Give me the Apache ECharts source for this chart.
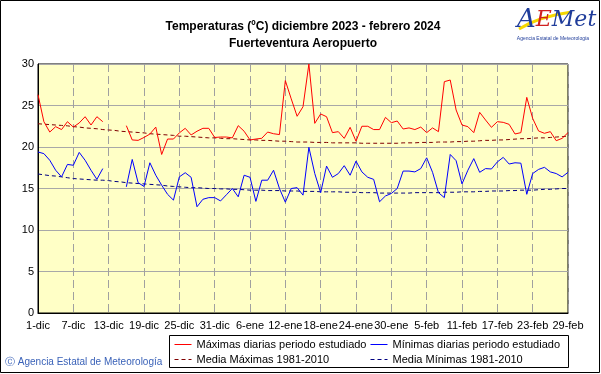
<!DOCTYPE html>
<html><head><meta charset="utf-8">
<script src="https://cdn.jsdelivr.net/npm/echarts@6/dist/echarts.min.js"></script>
<style>html,body{margin:0;padding:0;background:#fff}#c{width:601px;height:374px}</style>
</head><body><div id="c"></div>
<script>
const months = [['dic', 31], ['ene', 31], ['feb', 29]];
const days = [];
months.forEach(([m, n]) => { for (let d = 1; d <= n; d++) days.push(d + '-' + m); });
const tickLabels = ['1-dic','7-dic','13-dic','19-dic','25-dic','31-dic','6-ene','12-ene','18-ene','24-ene','30-ene','5-feb','11-feb','17-feb','23-feb','29-feb'];
const yTicks = [0, 5, 10, 15, 20, 25, 30];

const maxDaily = [26.3,23.05,21.8,22.45,22.1,23.05,22.4,22.9,23.65,22.65,23.65,23.05,null,null,null,
22.57,20.85,20.8,21.15,21.56,22.4,19.1,20.96,20.96,21.7,22.25,21.45,21.9,22.25,22.25,
21.15,21.2,21.2,21.1,22.57,21.9,20.85,20.96,21.05,21.8,21.6,21.5,28.0,25.8,23.7,
24.85,30.0,22.85,23.98,23.65,21.73,21.85,21.04,22.37,20.7,22.5,22.5,22.1,22.1,23.57,
22.93,23.13,22.17,22.3,22.1,22.4,21.73,22.3,21.85,27.87,28.07,24.46,22.65,22.45,21.73,
24.18,23.25,22.37,23.05,22.97,22.73,21.57,21.73,25.98,23.45,21.93,21.65,21.85,20.76,21.04,21.73];

const minDaily = [19.4,19.2,18.4,17.2,16.4,17.9,17.8,19.35,18.4,17.2,16.1,17.4,null,null,null,
15.2,18.5,15.7,15.25,18.1,16.6,15.4,14.3,13.6,16.4,16.9,16.35,12.8,13.7,13.9,
13.9,13.5,14.25,15.0,14.0,16.6,16.35,13.45,16.0,16.0,17.2,15.0,13.35,15.0,15.1,
14.2,19.96,16.8,14.5,17.7,16.35,16.8,17.75,16.6,18.3,17.0,16.35,16.1,13.4,14.1,
14.4,15.0,17.1,17.1,17.0,17.4,18.7,16.95,14.5,13.9,19.1,18.35,15.55,17.2,18.6,
16.95,17.4,17.35,18.2,18.75,17.95,18.1,18.05,14.3,16.8,17.3,17.55,17.0,16.8,16.4,16.95];

const maxMean = [22.8,22.75,22.7,22.65,22.6,22.55,22.45,22.4,22.3,22.25,22.2,22.1,22.05,22.0,21.9,
21.85,21.8,21.75,21.7,21.6,21.55,21.5,21.45,21.4,21.3,21.3,21.25,21.2,21.15,21.1,
21.1,21.05,21.0,21.0,20.95,20.9,20.85,20.85,20.8,20.8,20.75,20.7,20.7,20.65,20.6,
20.6,20.6,20.55,20.55,20.55,20.5,20.5,20.5,20.5,20.5,20.45,20.45,20.45,20.45,20.45,
20.45,20.45,20.5,20.5,20.5,20.55,20.55,20.55,20.6,20.6,20.6,20.65,20.65,20.7,20.7,
20.75,20.8,20.8,20.85,20.85,20.9,20.95,21.0,21.0,21.05,21.1,21.1,21.15,21.2,21.25,21.3];

const minMean = [16.75,16.65,16.55,16.5,16.4,16.3,16.2,16.15,16.1,16.05,16.0,16.0,15.95,15.85,15.8,
15.7,15.65,15.6,15.55,15.5,15.45,15.4,15.3,15.25,15.2,15.15,15.1,15.1,15.05,15.0,
15.0,14.95,14.95,14.9,14.9,14.85,14.8,14.8,14.8,14.75,14.75,14.75,14.7,14.7,14.7,
14.65,14.65,14.65,14.6,14.6,14.6,14.6,14.55,14.55,14.55,14.5,14.5,14.5,14.45,14.45,
14.45,14.45,14.45,14.45,14.5,14.5,14.5,14.5,14.5,14.55,14.55,14.55,14.6,14.6,14.6,
14.65,14.65,14.7,14.7,14.7,14.75,14.75,14.8,14.8,14.8,14.85,14.9,14.9,14.95,15.0,15.0];

const FONT = "'Liberation Sans', Arial, sans-serif";
const chart = echarts.init(document.getElementById('c'), null, {renderer: 'canvas'});

function legendAt(name, left, top) {
  return {
    data: [name], left: left, top: top, itemWidth: 17, itemHeight: 10, itemGap: 0,
    padding: 0, selectedMode: false,
    itemStyle: {opacity: 0},
    lineStyle: {width: 1},
    textStyle: {fontFamily: FONT, fontSize: 11, color: '#000', padding: [0, 0, 0, 0]}
  };
}

const option = {
  backgroundColor: '#ffffff',
  animation: false,
  textStyle: {fontFamily: FONT},
  grid: {left: 38, right: 33, top: 64, bottom: 61, show: true, backgroundColor: '#FFFFC6', borderColor: '#000', borderWidth: 1},
  xAxis: {
    type: 'category', data: days, boundaryGap: false,
    axisLine: {lineStyle: {color: '#000'}},
    axisTick: {show: false},
    axisLabel: {interval: 5, color: '#000', fontFamily: FONT, fontSize: 11, margin: 7,
      formatter: v => tickLabels.includes(v) ? v : ''},
    splitLine: {show: true, interval: 5, lineStyle: {color: '#A0A0A0', type: [8, 4], width: 1}}
  },
  yAxis: {
    type: 'value', min: 0, max: 30, interval: 5,
    axisLine: {show: true, lineStyle: {color: '#000'}},
    axisTick: {show: false},
    axisLabel: {color: '#000', fontFamily: FONT, fontSize: 11, margin: 4,
      formatter: v => yTicks.includes(v) ? String(v) : ''},
    splitLine: {lineStyle: {color: '#A8A8A8', width: 1}}
  },
  legend: [
    legendAt('Máximas diarias periodo estudiado', 174, 339),
    legendAt('Mínimas diarias periodo estudiado', 370, 339),
    legendAt('Media Máximas 1981-2010', 174, 354),
    legendAt('Media Mínimas 1981-2010', 370, 354)
  ],
  series: [
    {name: 'Máximas diarias periodo estudiado', type: 'line', data: maxDaily, symbol: 'none', connectNulls: false,
      lineStyle: {color: '#FF0000', width: 1}, itemStyle: {color: '#FF0000'}, z: 4},
    {name: 'Mínimas diarias periodo estudiado', type: 'line', data: minDaily, symbol: 'none', connectNulls: false,
      lineStyle: {color: '#0000FF', width: 1}, itemStyle: {color: '#0000FF'}, z: 4},
    {name: 'Media Máximas 1981-2010', type: 'line', data: maxMean, symbol: 'none',
      lineStyle: {color: '#800000', width: 1, type: [4, 3]}, itemStyle: {color: '#800000'}, z: 3},
    {name: 'Media Mínimas 1981-2010', type: 'line', data: minMean, symbol: 'none',
      lineStyle: {color: '#000080', width: 1, type: [4, 3]}, itemStyle: {color: '#000080'}, z: 3}
  ],
  graphic: [
    {type: 'rect', shape: {x: 0.5, y: 0.5, width: 599, height: 372}, style: {fill: null, stroke: '#000', lineWidth: 1}, z: 100},
    {type: 'rect', shape: {x: 169.5, y: 335.5, width: 399, height: 32}, style: {fill: null, stroke: '#000', lineWidth: 1}, z: 100},
    {type: 'text', x: 303, y: 27, style: {text: 'Temperaturas (ºC) diciembre 2023 - febrero 2024', font: "bold 12px " + FONT, fill: '#000', textAlign: 'center', textVerticalAlign: 'middle'}},
    {type: 'text', x: 303, y: 44, style: {text: 'Fuerteventura Aeropuerto', font: "bold 12px " + FONT, fill: '#000', textAlign: 'center', textVerticalAlign: 'middle'}},
    {type: 'text', x: 5, y: 362, style: {text: 'Ⓒ Agencia Estatal de Meteorología', font: "10px " + FONT, fill: '#3A62B8', textVerticalAlign: 'middle'}},
    {type: 'bezierCurve', shape: {x1: 519, y1: 29, x2: 572, y2: 12, cpx1: 540, cpy1: 16}, style: {stroke: '#F5D800', lineWidth: 3, fill: null}, z: 10},
    {type: 'text', x: 517, y: 20, style: {
      text: '{a|A}{e|E}{m|Met}', textVerticalAlign: 'middle',
      rich: {
        a: {font: "italic 26px 'DejaVu Serif', serif", fill: '#1F3C9A'},
        e: {font: "italic 22px 'DejaVu Serif', serif", fill: '#D02020'},
        m: {font: "italic 22px 'DejaVu Serif', serif", fill: '#1F3C9A'}
      }}, z: 11},
    {type: 'text', x: 553, y: 39, style: {text: 'Agencia Estatal de Meteorología', font: "5px " + FONT, fill: '#1F3C9A', textAlign: 'center', textVerticalAlign: 'middle'}, z: 11}
  ]
};
chart.setOption(option);
</script>
</body></html>
